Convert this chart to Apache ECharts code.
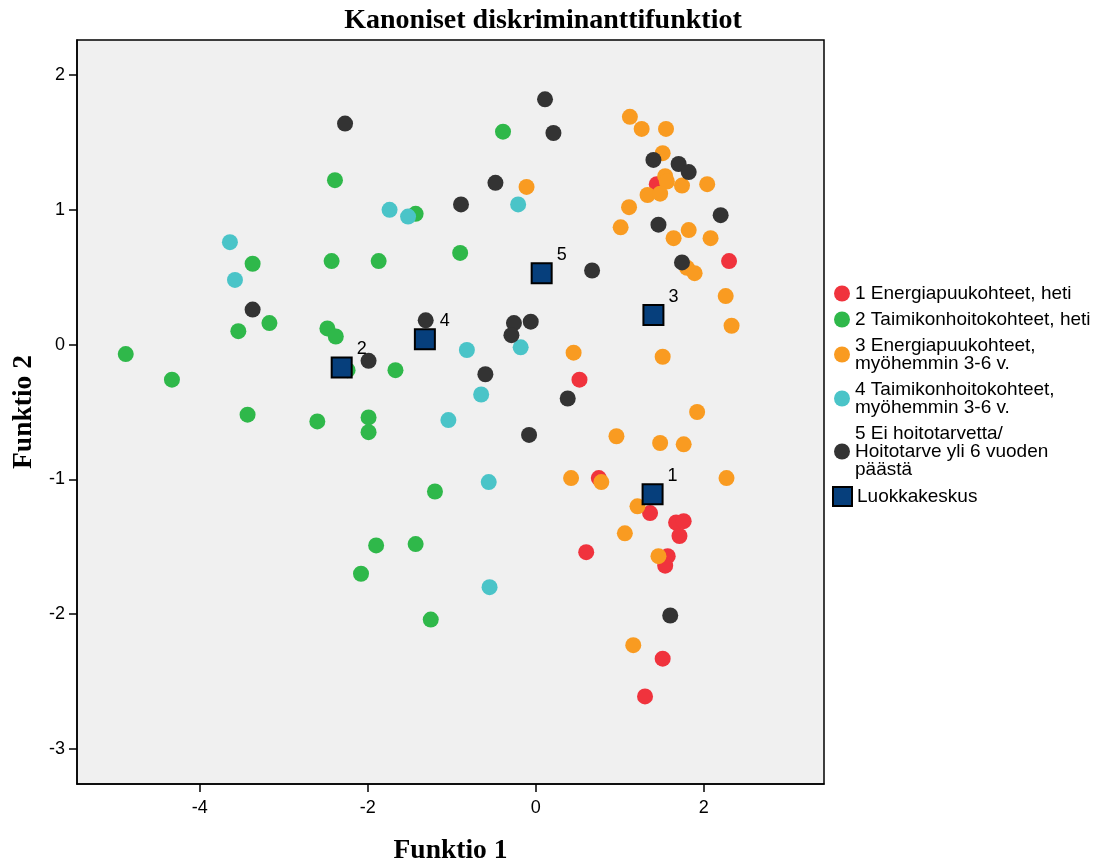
<!DOCTYPE html>
<html>
<head>
<meta charset="utf-8">
<script src="https://cdn.jsdelivr.net/npm/echarts@6/dist/echarts.min.js"></script>
<style>
html,body{margin:0;padding:0;background:#fff;}
#chart{width:1095px;height:867px;}
</style>
</head>
<body>
<div id="chart"></div>
<script>
// ---- data (Funktio 1, Funktio 2) ----
const xTicks = [-4, -2, 0, 2];
const yTicks = [-3, -2, -1, 0, 1, 2];

const seriesNames = [
  '1 Energiapuukohteet, heti',
  '2 Taimikonhoitokohteet, heti',
  '3 Energiapuukohteet,\nmyöhemmin 3-6 v.',
  '4 Taimikonhoitokohteet,\nmyöhemmin 3-6 v.',
  '5 Ei hoitotarvetta/\nHoitotarve yli 6 vuoden\npäästä'
];
const centroidName = 'Luokkakeskus';

const group1 = [
  [2.30, 0.62], [1.44, 1.19], [0.52, -0.26], [0.75, -0.99], [1.36, -1.25],
  [1.67, -1.32], [1.76, -1.31], [1.71, -1.42], [0.60, -1.54], [1.57, -1.57],
  [1.54, -1.64], [1.51, -2.33], [1.30, -2.61]
];
const group2 = [
  [-4.88, -0.07], [-4.33, -0.26], [-3.43, -0.52], [-3.54, 0.10], [-3.17, 0.16],
  [-3.37, 0.60], [-2.39, 1.22], [-2.43, 0.62], [-1.87, 0.62], [-2.48, 0.12],
  [-2.38, 0.06], [-2.24, -0.19], [-1.67, -0.19], [-2.60, -0.57], [-1.99, -0.54],
  [-1.99, -0.65], [-0.39, 1.58], [-1.43, 0.97], [-0.90, 0.68], [-1.20, -1.09],
  [-1.90, -1.49], [-1.43, -1.48], [-2.08, -1.70], [-1.25, -2.04]
];
const group3 = [
  [1.12, 1.69], [1.26, 1.60], [1.55, 1.60], [1.51, 1.42], [1.54, 1.25],
  [1.56, 1.21], [1.74, 1.18], [2.04, 1.19], [1.33, 1.11], [1.48, 1.12],
  [1.11, 1.02], [1.01, 0.87], [1.64, 0.79], [1.82, 0.85], [2.08, 0.79],
  [1.80, 0.57], [1.89, 0.53], [2.26, 0.36], [2.33, 0.14], [-0.11, 1.17],
  [0.45, -0.06], [1.51, -0.09], [1.92, -0.50], [0.96, -0.68], [1.48, -0.73],
  [1.76, -0.74], [0.42, -0.99], [0.78, -1.02], [2.27, -0.99], [1.21, -1.20],
  [1.06, -1.40], [1.46, -1.57], [1.16, -2.23]
];
const group4 = [
  [-3.64, 0.76], [-3.58, 0.48], [-1.74, 1.00], [-1.52, 0.95], [-0.21, 1.04],
  [-0.82, -0.04], [-0.18, -0.02], [-0.65, -0.37], [-1.04, -0.56], [-0.56, -1.02],
  [-0.55, -1.80]
];
const group5 = [
  [-2.27, 1.64], [0.11, 1.82], [0.21, 1.57], [-0.48, 1.20], [-0.89, 1.04],
  [0.67, 0.55], [1.40, 1.37], [1.70, 1.34], [1.82, 1.28], [2.20, 0.96],
  [1.46, 0.89], [1.74, 0.61], [-3.37, 0.26], [-1.31, 0.18], [-1.99, -0.12],
  [-0.26, 0.16], [-0.06, 0.17], [-0.29, 0.07], [-0.60, -0.22], [-0.08, -0.67],
  [0.38, -0.40], [1.60, -2.01]
];
const centroidLabels = ['1', '2', '3', '4', '5'];
const centroids = [
  [1.39, -1.11], [-2.31, -0.17], [1.40, 0.22], [-1.32, 0.04], [0.07, 0.53]
];

const colors = ['#f0333d', '#2fb84a', '#f99b21', '#4ac4c8', '#333333'];
const groups = [group1, group2, group3, group4, group5];

const sans = '"Liberation Sans", Arial, sans-serif';
const serif = '"Liberation Serif", "Times New Roman", serif';

const chart = echarts.init(document.getElementById('chart'));

const series = groups.map((g, i) => ({
  name: seriesNames[i],
  type: 'scatter',
  data: g,
  symbol: 'circle',
  symbolSize: 16,
  itemStyle: { color: colors[i], opacity: 1 },
  emphasis: { disabled: true },
  z: 2 + i
}));
series.push({
  name: centroidName,
  type: 'scatter',
  data: centroids.map((c, i) => ({ value: c, label: { formatter: centroidLabels[i] } })),
  symbol: 'rect',
  symbolSize: 20,
  itemStyle: { color: '#063f7c', borderColor: '#000', borderWidth: 2, opacity: 1 },
  label: {
    show: true,
    position: 'right',
    distance: 4,
    offset: [0, -18],
    color: '#000',
    fontFamily: sans,
    fontSize: 18
  },
  emphasis: { disabled: true },
  z: 10
});

chart.setOption({
  animation: false,
  backgroundColor: '#ffffff',
  title: {
    text: 'Kanoniset diskriminanttifunktiot',
    left: 538,
    textAlign: 'center',
    top: 2,
    textStyle: { fontFamily: serif, fontWeight: 'bold', fontSize: 28, color: '#000' }
  },
  grid: {
    left: 77, right: 271, top: 40, bottom: 83,
    outerBoundsMode: 'none',
    containLabel: false,
    show: true,
    backgroundColor: '#f0f0f0',
    borderColor: '#000',
    borderWidth: 1.5
  },
  legend: [
    {
      data: seriesNames.map((n, i) => ({ name: n, icon: 'circle' })),
      orient: 'vertical',
      left: 829,
      top: 279,
      itemWidth: 16,
      itemHeight: 16,
      itemGap: 7,
      selectedMode: false,
      textStyle: { fontFamily: sans, fontSize: 19, color: '#000', lineHeight: 18 }
    },
    {
      data: [{ name: centroidName, icon: 'rect', itemStyle: { color: '#063f7c', borderColor: '#000', borderWidth: 2 } }],
      orient: 'vertical',
      left: 827,
      top: 481,
      itemWidth: 19,
      itemHeight: 19,
      selectedMode: false,
      textStyle: { fontFamily: sans, fontSize: 19, color: '#000', lineHeight: 18 }
    }
  ],
  xAxis: {
    type: 'value',
    min: -5.46,
    max: 3.43,
    name: 'Funktio 1',
    nameLocation: 'middle',
    nameGap: 53,
    nameTextStyle: { fontFamily: serif, fontWeight: 'bold', fontSize: 27.5, color: '#000' },
    axisLine: { show: true, onZero: false, lineStyle: { color: '#000', width: 1.5 } },
    axisTick: { show: true, length: 8, customValues: xTicks, lineStyle: { color: '#000', width: 1.5 } },
    axisLabel: { customValues: xTicks, margin: 15, color: '#000', fontFamily: sans, fontSize: 18 },
    splitLine: { show: false }
  },
  yAxis: {
    type: 'value',
    min: -3.26,
    max: 2.26,
    name: 'Funktio 2',
    nameLocation: 'middle',
    nameGap: 33,
    nameRotate: 90,
    nameTextStyle: { fontFamily: serif, fontWeight: 'bold', fontSize: 27.5, color: '#000' },
    axisLine: { show: true, onZero: false, lineStyle: { color: '#000', width: 1.5 } },
    axisTick: { show: true, length: 8, customValues: yTicks, lineStyle: { color: '#000', width: 1.5 } },
    axisLabel: { customValues: yTicks, margin: 12, color: '#000', fontFamily: sans, fontSize: 18 },
    splitLine: { show: false }
  },
  series: series
});
</script>
</body>
</html>
